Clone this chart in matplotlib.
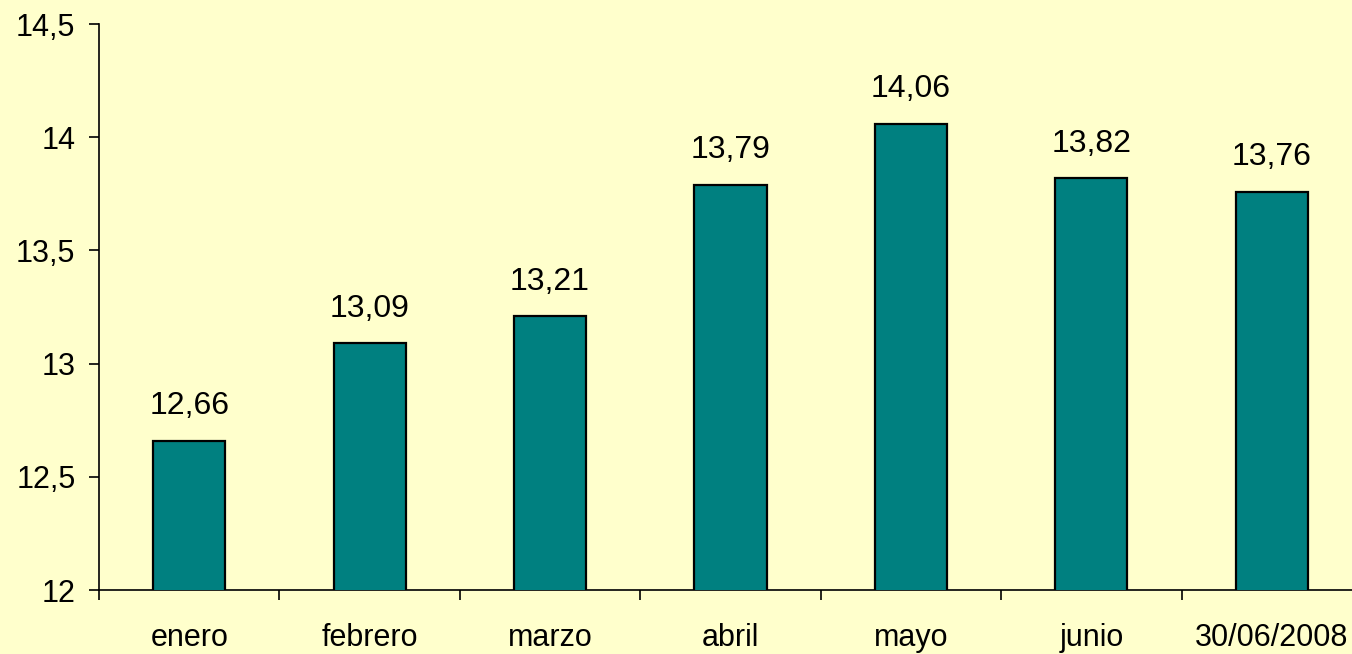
import matplotlib
matplotlib.use('Agg')
import matplotlib.pyplot as plt
import numpy as np
from matplotlib.ticker import FuncFormatter, FixedLocator

categories = ['enero', 'febrero', 'marzo', 'abril', 'mayo', 'junio', '30/06/2008']
values = [12.66, 13.09, 13.21, 13.79, 14.06, 13.82, 13.76]
y_ticks = [12, 12.5, 13, 13.5, 14, 14.5]

BG = '#FFFFCC'
BAR = '#008080'

plt.rcParams['font.family'] = ['Liberation Sans', 'DejaVu Sans']


def comma(v, pos=None):
	s = f'{v:g}'
	return s.replace('.', ',')


fig = plt.figure(figsize=(13.52, 6.54), dpi=100, facecolor=BG)
# axes run slightly past the right edge, as in the original
ax = fig.add_axes([99 / 1352, 1 - 590 / 654, 1263 / 1352, 566 / 654])
ax.set_facecolor(BG)

x = np.arange(len(categories))
ax.bar(x, values, width=0.40, color=BAR, edgecolor='black', linewidth=1.6, zorder=3)

for xi, v in zip(x, values):
	ax.annotate(f'{v:.2f}'.replace('.', ','), (xi, v), xytext=(0, 14),
		textcoords='offset points', ha='center', va='bottom', fontsize=23)

ax.set_ylim(12, 14.5)
ax.set_xlim(-0.5, len(categories) - 0.5)
ax.yaxis.set_major_locator(FixedLocator(y_ticks))
ax.yaxis.set_major_formatter(FuncFormatter(comma))

# category boundaries as ticks, names centred between them
ax.xaxis.set_major_locator(FixedLocator(np.arange(len(categories) + 1) - 0.5))
ax.xaxis.set_major_formatter(FuncFormatter(lambda v, p: ''))
ax.xaxis.set_minor_locator(FixedLocator(x))
ax.set_xticklabels(categories, minor=True)
ax.tick_params(axis='x', which='minor', length=0, pad=24, labelsize=22)
ax.tick_params(axis='x', which='major', length=7, width=1.2, direction='out')
ax.tick_params(axis='y', length=7, width=1.2, direction='out', pad=10, labelsize=22)

for side in ('top', 'right'):
	ax.spines[side].set_visible(False)
for side in ('left', 'bottom'):
	ax.spines[side].set_linewidth(1.2)

fig.savefig('out.png', dpi=100, facecolor=BG)
